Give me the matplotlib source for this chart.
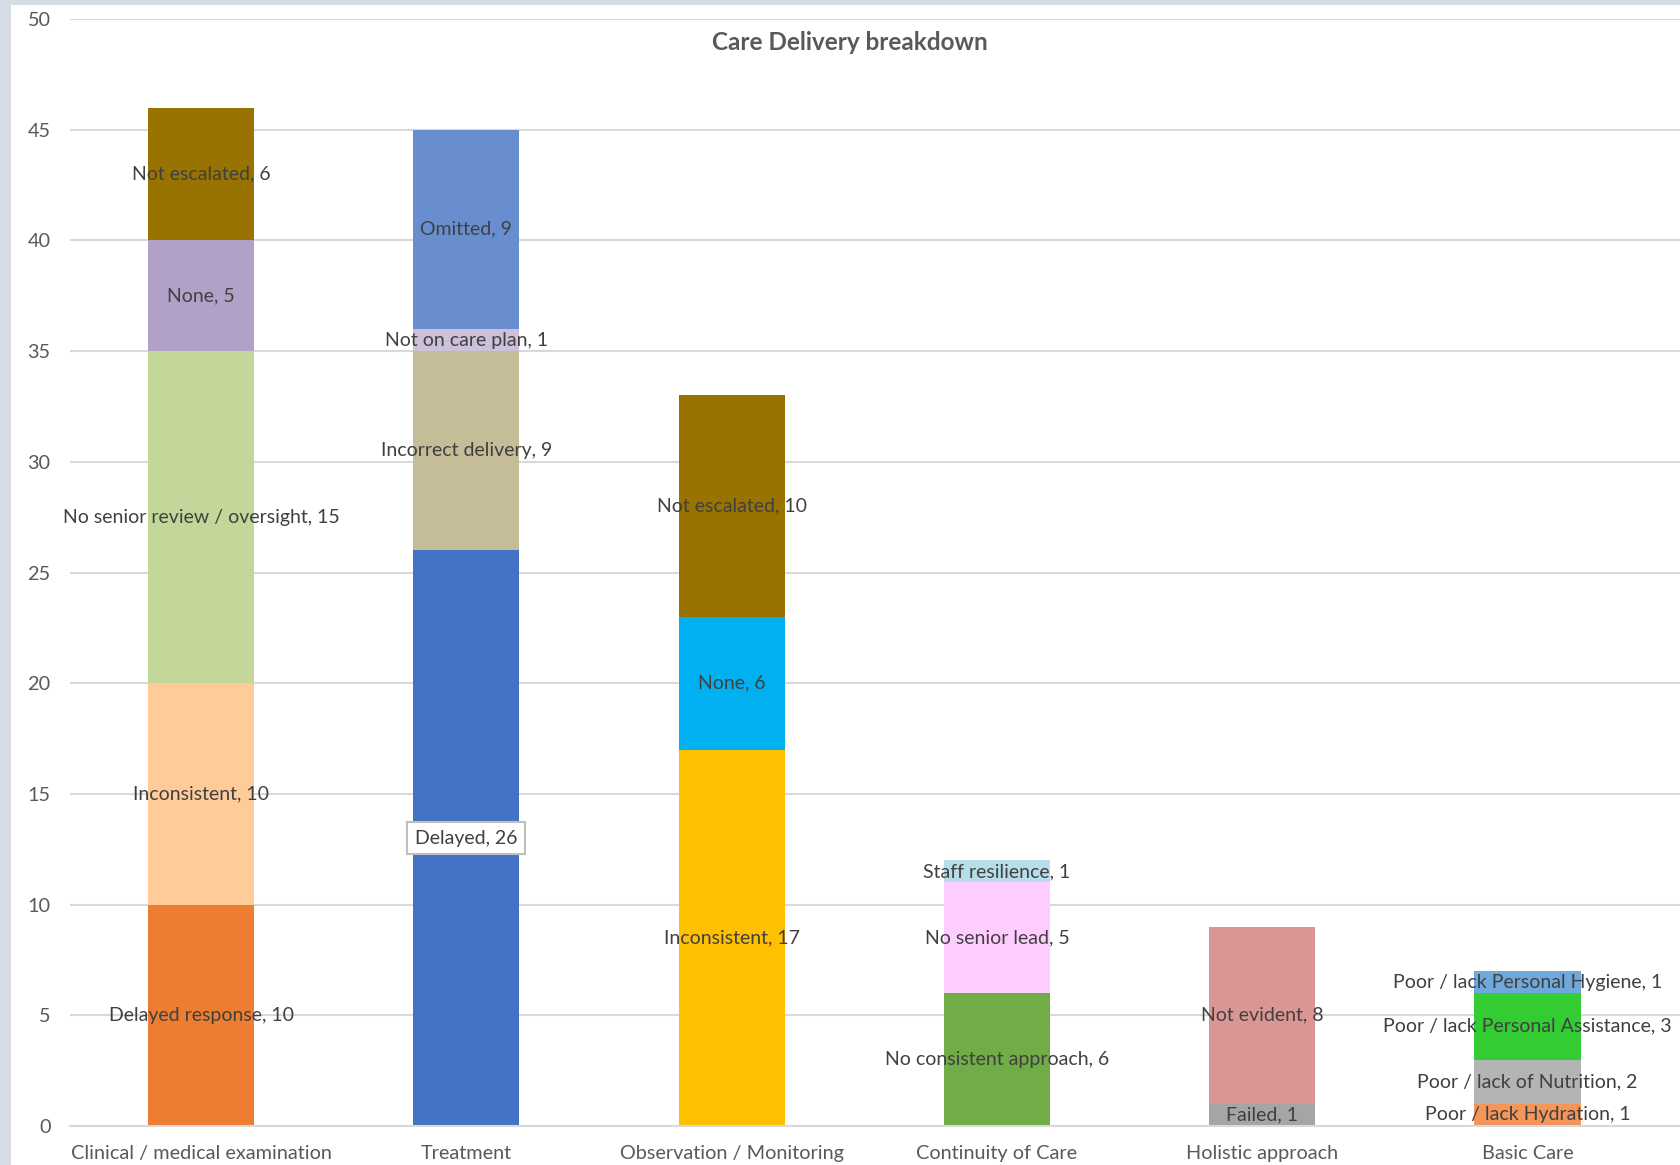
"""
Care Delivery breakdown - stacked bar chart
"""
import matplotlib
matplotlib.use('Agg')
import matplotlib.pyplot as plt
from matplotlib.patches import Rectangle

plt.rcParams['font.family'] = ['Lato', 'DejaVu Sans']

# 데이터
categories = ['Clinical / medical examination', 'Treatment', 'Observation / Monitoring',
              'Continuity of Care', 'Holistic approach', 'Basic Care']

clinical_names = ['Delayed response', 'Inconsistent', 'No senior review / oversight', 'None', 'Not escalated']
clinical_values = [10, 10, 15, 5, 6]

treatment_names = ['Delayed', 'Incorrect delivery', 'Not on care plan', 'Omitted']
treatment_values = [26, 9, 1, 9]

observation_names = ['Inconsistent', 'None', 'Not escalated']
observation_values = [17, 6, 10]

continuity_names = ['No consistent approach', 'No senior lead', 'Staff resilience']
continuity_values = [6, 5, 1]

holistic_names = ['Failed', 'Not evident']
holistic_values = [1, 8]

basic_names = ['Poor / lack Hydration', 'Poor / lack of Nutrition',
               'Poor / lack Personal Assistance', 'Poor / lack Personal Hygiene']
basic_values = [1, 2, 3, 1]

# 색상
seg_colors = [
    ['#ED7D31', '#FFCC99', '#C4D79B', '#B1A0C7', '#997300'],
    ['#4472C4', '#C4BD97', '#CCC0DA', '#698ED0'],
    ['#FFC000', '#00B0F0', '#997300'],
    ['#70AD47', '#FFCCFF', '#B7DEE8'],
    ['#A5A5A5', '#DA9694'],
    ['#F4955A', '#B4B4B4', '#33CC33', '#6FA8DC'],
]

stacks = [
    (clinical_names, clinical_values),
    (treatment_names, treatment_values),
    (observation_names, observation_values),
    (continuity_names, continuity_values),
    (holistic_names, holistic_values),
    (basic_names, basic_values),
]

fig = plt.figure(figsize=(16.8, 11.65), dpi=100)
fig.patch.set_facecolor('#D6DCE5')
fig.patches.append(Rectangle((11 / 1680, 0), 1, 1 - 5 / 1165, transform=fig.transFigure,
                             facecolor='white', edgecolor='none', zorder=-10))

ax = fig.add_axes([70 / 1680, 39 / 1165, 1 - 70 / 1680, 1107 / 1165])
ax.set_facecolor('none')
ax.set_zorder(5)

for i, (names, values) in enumerate(stacks):
    bottom = 0
    for name, v, c in zip(names, values, seg_colors[i]):
        ax.bar(i, v, bottom=bottom, width=0.4, color=c, zorder=2)
        bbox = None
        if name == 'Delayed' and i == 1:
            bbox = dict(boxstyle='square,pad=0.4', fc='white', ec='#BFBFBF', lw=1.5)
        ax.text(i, bottom + v / 2, f'{name}, {v}', ha='center', va='center',
                fontsize=14, color='#404040', zorder=3, bbox=bbox)
        bottom += v

ax.set_xlim(-0.494, 5.575)
ax.set_ylim(0, 50)
ax.set_yticks(range(0, 51, 5))
ax.set_xticks(range(len(categories)))
ax.set_xticklabels(categories, fontsize=14.3)
ax.tick_params(axis='both', length=0, labelcolor='#595959')
ax.tick_params(axis='y', labelsize=14.3, pad=14)
ax.tick_params(axis='x', pad=14)
ax.grid(axis='y', color='#D9D9D9', linewidth=1.5, zorder=1)
ax.set_axisbelow(True)
for side in ['top', 'right', 'left']:
    ax.spines[side].set_visible(False)
ax.spines['bottom'].set_color('#D9D9D9')
ax.spines['bottom'].set_linewidth(1.5)

fig.text(850 / 1680, 1 - 43 / 1165, 'Care Delivery breakdown', ha='center', va='center',
         fontsize=17.5, fontweight='bold', color='#595959')

plt.savefig('out.png', dpi=100)
plt.close()
